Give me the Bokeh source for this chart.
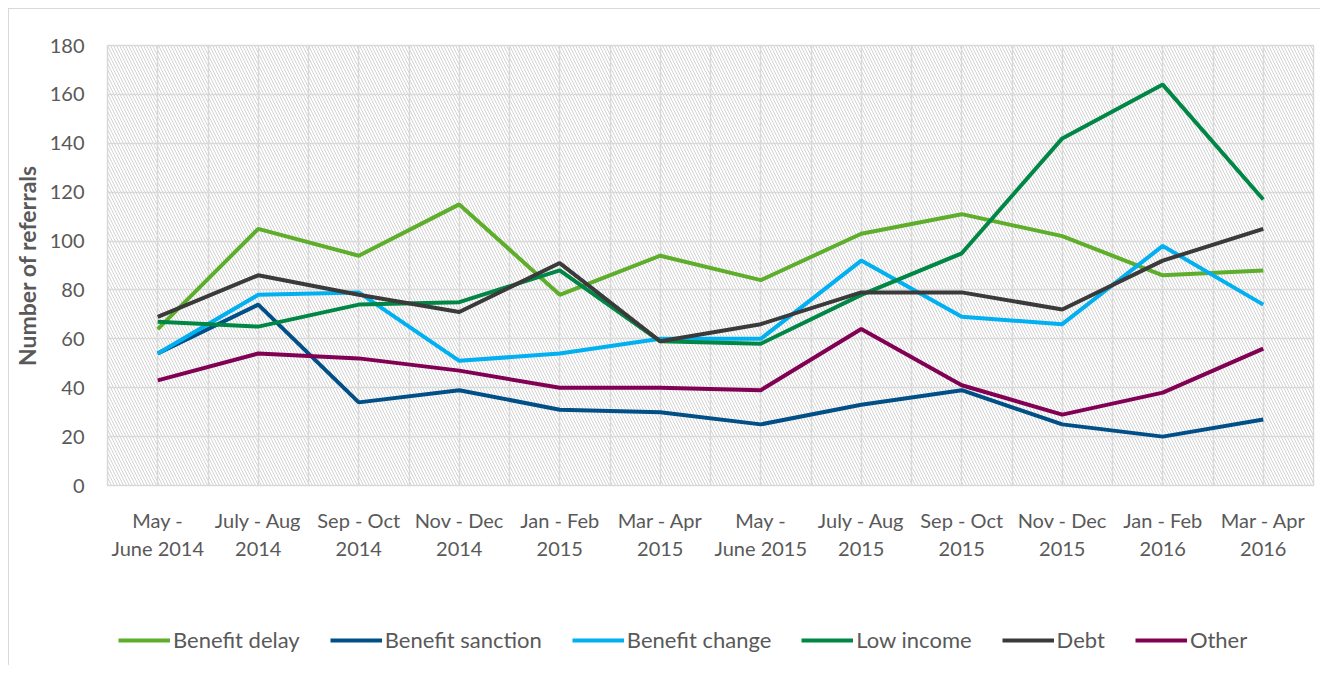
from bokeh.plotting import figure
from bokeh.layouts import column
from bokeh.models import (FixedTicker, BoxAnnotation, Legend, LegendItem, Range1d)
from bokeh.embed import file_html
from bokeh.resources import INLINE

periods = ["May -\nJune 2014", "July - Aug\n2014", "Sep - Oct\n2014", "Nov - Dec\n2014",
           "Jan - Feb\n2015", "Mar - Apr\n2015", "May -\nJune 2015", "July - Aug\n2015",
           "Sep - Oct\n2015", "Nov - Dec\n2015", "Jan - Feb\n2016", "Mar - Apr\n2016"]

benefit_delay = [64, 105, 94, 115, 78, 94, 84, 103, 111, 102, 86, 88]
benefit_sanction = [54, 74, 34, 39, 31, 30, 25, 33, 39, 25, 20, 27]
benefit_change = [54, 78, 79, 51, 54, 60, 60, 92, 69, 66, 98, 74]
low_income = [67, 65, 74, 75, 88, 59, 58, 78, 95, 142, 164, 117]
debt = [69, 86, 78, 71, 91, 59, 66, 79, 79, 72, 92, 105]
other = [43, 54, 52, 47, 40, 40, 39, 64, 41, 29, 38, 56]

series_names = ["Benefit delay", "Benefit sanction", "Benefit change", "Low income", "Debt", "Other"]
series_values = [benefit_delay, benefit_sanction, benefit_change, low_income, debt, other]
series_colors = ["#5eae2b", "#004f86", "#00b0f0", "#008645", "#3a3a3a", "#820053"]

y_ticks = [0, 20, 40, 60, 80, 100, 120, 140, 160, 180]

FONT = "Lato"
GREY = "#595959"

x = list(range(len(periods)))

# ---------------- main chart ----------------
p = figure(width=1311, height=554, output_backend="svg", toolbar_location=None,
           x_range=Range1d(-0.5, len(periods) - 0.5), y_range=Range1d(0, 180),
           min_border_left=98, min_border_right=7, min_border_top=36, min_border_bottom=73)
p.outline_line_color = "#d9d9d9"
p.outline_line_width = 1.5

# hatched plot background
p.add_layout(BoxAnnotation(left=-0.5, right=len(periods) - 0.5, bottom=0, top=180,
                           fill_alpha=0, line_alpha=0, hatch_pattern="\\",
                           hatch_color="#d2d2d2", hatch_scale=6, hatch_weight=1,
                           level="image"))

# grids
p.xgrid.ticker = FixedTicker(ticks=[i * 0.5 - 0.5 for i in range(2 * len(periods) + 1)])
p.xgrid.grid_line_color = "#d9d9d9"
p.xgrid.grid_line_width = 1.5
p.ygrid.ticker = FixedTicker(ticks=y_ticks)
p.ygrid.grid_line_color = "#d9d9d9"
p.ygrid.grid_line_width = 1.5

# axes
p.xaxis.ticker = FixedTicker(ticks=x)
p.xaxis.major_label_overrides = {i: periods[i] for i in x}
p.yaxis.ticker = FixedTicker(ticks=y_ticks)
for ax in (p.xaxis[0], p.yaxis[0]):
    ax.axis_line_color = None
    ax.major_tick_line_color = None
    ax.minor_tick_line_color = None
    ax.major_tick_out = 0
    ax.major_tick_in = 0
    ax.minor_tick_out = 0
    ax.major_label_text_font = FONT
    ax.major_label_text_font_size = "20px"
    ax.major_label_text_color = GREY
p.xaxis.axis_line_color = "#d9d9d9"
p.xaxis.major_label_standoff = 22
p.yaxis.major_label_standoff = 23
p.yaxis.axis_label = "Number of referrals"
p.yaxis.axis_label_text_font = FONT
p.yaxis.axis_label_text_font_size = "23px"
p.yaxis.axis_label_text_font_style = "bold"
p.yaxis.axis_label_text_color = GREY
p.yaxis.axis_label_standoff = 6

for vals, col in zip(series_values, series_colors):
    p.line(x, vals, line_color=col, line_width=4)

# ---------------- legend strip ----------------
q = figure(width=1311, height=102, output_backend="svg", toolbar_location=None,
           x_range=Range1d(1000, 1001), y_range=Range1d(1000, 1001),
           x_axis_type=None, y_axis_type=None,
           min_border_left=98, min_border_right=7, min_border_top=0, min_border_bottom=0)
q.outline_line_color = None
q.grid.visible = False
items = []
for name, vals, col in zip(series_names, series_values, series_colors):
    r = q.line(x, vals, line_color=col, line_width=4)
    items.append(LegendItem(label=name, renderers=[r]))

legend = Legend(items=items, orientation="horizontal", location=(11, 12),
                glyph_width=52, glyph_height=20, label_standoff=3, spacing=30,
                label_text_font=FONT, label_text_font_size="22px", label_text_color=GREY,
                background_fill_alpha=0, border_line_color=None, padding=0, margin=0)
q.add_layout(legend, "center")

layout = column(p, q, spacing=0)
layout.styles = {"border-left": "1px solid #d9d9d9", "border-top": "1px solid #d9d9d9",
                 "margin-left": "8px", "margin-top": "8px"}

open("out.html", "w").write(file_html(layout, INLINE))
